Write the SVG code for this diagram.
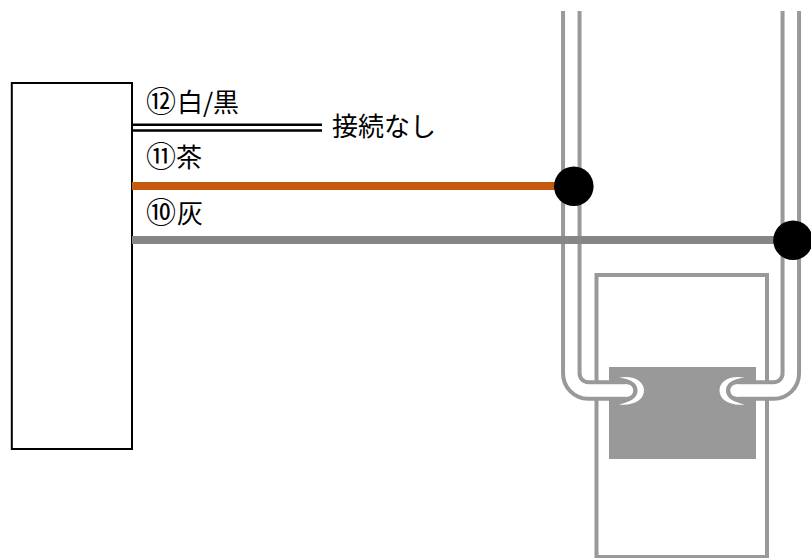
<svg xmlns="http://www.w3.org/2000/svg" width="811" height="558" viewBox="0 0 811 558">
<style>
.t{font-family:"Noto Sans CJK JP",sans-serif;font-size:26px;fill:#000}
.n{font-size:30px}
.o{fill:none;stroke:#999;stroke-width:20.500}
.i{fill:none;stroke:#fff;stroke-width:12.500}
</style>
<defs>
<path id="halo" d="M619 377.500C635 375 644 382 644 390.500C644 399 635 406 619 404.500C630 402 637.500 398 637.500 390.500C637.500 383 630 379 619 377.500Z" fill="#fff"/>
</defs>
<rect width="811" height="558" fill="#fff"/>
<g id="terminal"><rect x="11.800" y="83" width="120.200" height="366" fill="#fff" stroke="#000" stroke-width="2"/></g>
<g id="sensor">
<rect x="596.500" y="275" width="170.500" height="282" fill="none" stroke="#999" stroke-width="4"/>
<rect x="609" y="367" width="147" height="92" fill="#999"/>
<use href="#halo"/>
<use href="#halo" transform="translate(1363.500 0) scale(-1 1)"/>
<path d="M571.300 11V373.500a17 17 0 0 0 17 17H627" class="o"/>
<path d="M790.800 11V373.500a17 17 0 0 1 -17 17H736.500" class="o"/>
<circle cx="627" cy="390.500" r="10.250" fill="#999"/>
<circle cx="736.500" cy="390.500" r="10.250" fill="#999"/>
<path d="M571.300 11V373.500a17 17 0 0 0 17 17H627" class="i"/>
<path d="M790.800 11V373.500a17 17 0 0 1 -17 17H736.500" class="i"/>
<circle cx="627" cy="390.500" r="6.250" fill="#fff"/>
<circle cx="736.500" cy="390.500" r="6.250" fill="#fff"/>
</g>
<g id="connectors">
<path d="M132 124.800H322M132 130.500H322" stroke="#000" stroke-width="2.500" fill="none"/>
<path d="M132 186H574" stroke="#C55A11" stroke-width="8" fill="none"/>
<path d="M132 240H793" stroke="#868686" stroke-width="8" fill="none"/>
</g>
<g id="joint-11"><circle cx="573.800" cy="186.300" r="19.800"/></g>
<g id="joint-10"><circle cx="793" cy="240.300" r="19.800"/></g>
<g id="labels">
<text class="t" y="112"><tspan class="n" x="146">⑫</tspan><tspan x="177">白</tspan><tspan x="203">/</tspan><tspan x="213">黒</tspan></text>
<text class="t" x="332" y="136">接続なし</text>
<text class="t" y="167"><tspan class="n" x="146">⑪</tspan><tspan x="176">茶</tspan></text>
<text class="t" y="223"><tspan class="n" x="146">⑩</tspan><tspan x="177">灰</tspan></text>
</g>
</svg>
